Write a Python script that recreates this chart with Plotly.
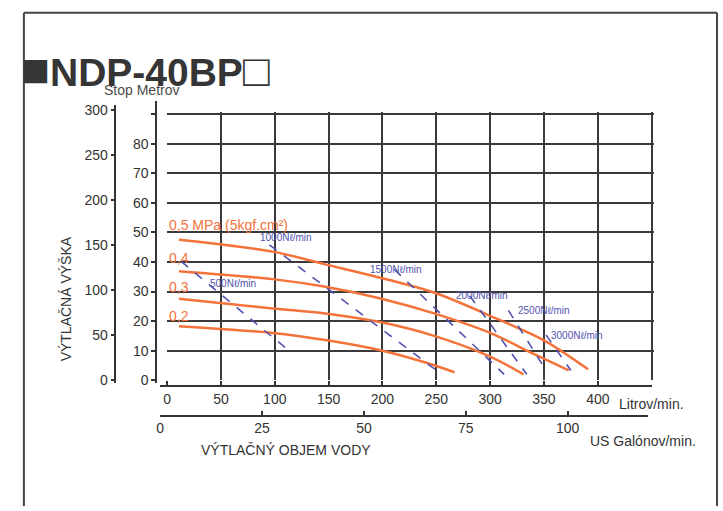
import plotly.graph_objects as go

W, H = 723, 511

# ---------------- data (flow in l/min, head in m) ----------------
pressure_labels = ["0,5 MPa (5kgf.cm²)", "0,4", "0,3", "0,2"]
flow_05 = [11, 98, 147, 200, 249, 305, 350, 391]
head_05 = [47.5, 43.5, 39.2, 34.5, 29.5, 21.0, 13.5, 3.7]
flow_04 = [11, 98, 147, 200, 248, 300, 340, 373]
head_04 = [36.9, 34.2, 31.6, 27.5, 22.6, 16.0, 9.0, 3.3]
flow_03 = [11, 98, 147, 200, 248, 300, 331]
head_03 = [27.6, 24.3, 22.6, 19.5, 15.0, 8.0, 2.0]
flow_02 = [11, 98, 147, 200, 240, 267]
head_02 = [18.3, 16.0, 13.6, 10.0, 6.0, 2.7]

air_labels = ["500Nℓ/min", "1000Nℓ/min", "1500Nℓ/min", "2000Nℓ/min", "2500Nℓ/min", "3000Nℓ/min"]
air_500_flow = [13, 114.5]
air_500_head = [40.2, 9.6]
air_1000_flow = [95, 255]
air_1000_head = [45.8, 2.0]
air_1500_flow = [211, 313]
air_1500_head = [37.5, 2.0]
air_2000_flow = [281, 334]
air_2000_head = [28.6, 2.0]
air_2500_flow = [317, 352]
air_2500_head = [23.6, 3.3]
air_3000_flow = [352, 375]
air_3000_head = [15.3, 3.3]

litre_ticks = [0, 50, 100, 150, 200, 250, 300, 350, 400]
gallon_ticks = [0, 25, 50, 75, 100]
metre_ticks = [0, 10, 20, 30, 40, 50, 60, 70, 80, 90]
metre_ticktext = ["0", "10", "20", "30", "40", "50", "60", "70", "80", ""]
feet_ticks = [0, 50, 100, 150, 200, 250, 300]

# ---------------- helpers for pixel -> paper ----------------
def fx(p):
    return p / W

def fy(p):
    return (H - p) / H

ORANGE = "#f3733b"
BLUE = "#5252ae"
INK = "#333333"
FONT = "Liberation Sans, Arial, sans-serif"

fig = go.Figure()

for fl, hd in [(flow_05, head_05), (flow_04, head_04), (flow_03, head_03), (flow_02, head_02)]:
    fig.add_trace(go.Scatter(x=fl, y=hd, mode="lines",
                             line=dict(color=ORANGE, width=2.5, shape="spline", smoothing=0.9),
                             hoverinfo="skip", showlegend=False))

for fl, hd in [(air_500_flow, air_500_head), (air_1000_flow, air_1000_head),
               (air_1500_flow, air_1500_head), (air_2000_flow, air_2000_head),
               (air_2500_flow, air_2500_head), (air_3000_flow, air_3000_head)]:
    fig.add_trace(go.Scatter(x=fl, y=hd, mode="lines",
                             line=dict(color=BLUE, width=1.6, dash="dash"),
                             hoverinfo="skip", showlegend=False))

# invisible helper traces so the extra axes render
fig.add_trace(go.Scatter(x=[0], y=[0], xaxis="x4", yaxis="y2", mode="markers",
                         marker=dict(opacity=0), hoverinfo="skip", showlegend=False))
fig.add_trace(go.Scatter(x=[0], y=[0], xaxis="x4", yaxis="y3", mode="markers",
                         marker=dict(opacity=0), hoverinfo="skip", showlegend=False))
fig.add_trace(go.Scatter(x=[0], y=[0], xaxis="x2", yaxis="y4", mode="markers",
                         marker=dict(opacity=0), hoverinfo="skip", showlegend=False))
fig.add_trace(go.Scatter(x=[0], y=[0], xaxis="x3", yaxis="y4", mode="markers",
                         marker=dict(opacity=0), hoverinfo="skip", showlegend=False))

# scale: 0 l/min at px 164, 1.0828 px per l/min ; 0 m at px 383, 3.01 px per m
XS = 1.0828
YS = 3.01
x_range = [0, 452]
y_range = [0, 90.6]

tickfont = dict(family=FONT, size=14, color=INK)

fig.update_layout(
    width=W, height=H, autosize=False,
    margin=dict(l=0, r=0, t=0, b=0),
    paper_bgcolor="white", plot_bgcolor="rgba(0,0,0,0)",
    font=dict(family=FONT, color=INK),
    xaxis=dict(domain=[fx(164), fx(164 + x_range[1] * XS)], range=x_range,
               tickmode="array", tickvals=[50, 100, 150, 200, 250, 300, 350, 400, 450],
               showticklabels=False, ticks="", showgrid=True, gridcolor="#3a3a3a",
               gridwidth=2, zeroline=False, showline=False, anchor="y", fixedrange=True),
    yaxis=dict(domain=[fy(383), fy(383 - y_range[1] * YS)], range=y_range,
               tickmode="array", tickvals=[10, 20, 30, 40, 50, 60, 70, 80, 90],
               showticklabels=False, ticks="", showgrid=True, gridcolor="#3a3a3a",
               gridwidth=2, zeroline=False, showline=False, anchor="x", fixedrange=True),
    # metres axis
    yaxis2=dict(domain=[fy(383 + 1 * YS), fy(383 - 94.5 * YS)], range=[-1, 94.5],
                anchor="free", position=fx(153), side="left",
                tickmode="array", tickvals=metre_ticks, ticktext=metre_ticktext,
                ticks="outside", ticklen=4, tickwidth=1.5, tickcolor=INK,
                showline=True, linecolor=INK, linewidth=1.5, showgrid=False,
                zeroline=False, tickfont=tickfont, fixedrange=True),
    # feet axis
    yaxis3=dict(domain=[fy(383 + 3 * YS / 3.2808), fy(383 - 305 * YS / 3.2808)], range=[-3, 305],
                anchor="free", position=fx(112), side="left",
                tickmode="array", tickvals=feet_ticks,
                ticks="outside", ticklen=4, tickwidth=1.5, tickcolor=INK,
                showline=True, linecolor=INK, linewidth=1.5, showgrid=False,
                zeroline=False, tickfont=tickfont, fixedrange=True),
    xaxis4=dict(domain=[fx(164), fx(651)], range=[0, 450], visible=False, anchor="y2"),
    yaxis4=dict(domain=[0, 0.1], range=[0, 1], visible=False, anchor="x2"),
    # litres axis
    xaxis2=dict(domain=[fx(157), fx(652)], range=[-7 / XS, (652 - 164) / XS],
                anchor="free", position=fy(389), side="bottom",
                tickmode="array", tickvals=litre_ticks,
                ticks="inside", ticklen=4, tickwidth=1.5, tickcolor=INK,
                showline=True, linecolor=INK, linewidth=1.5, showgrid=False,
                zeroline=False, tickfont=tickfont, fixedrange=True),
    # US gallons axis
    xaxis3=dict(domain=[fx(157), fx(648)], range=[0, (648 - 157) / (XS * 3.785)],
                anchor="free", position=fy(419), side="bottom",
                tickmode="array", tickvals=gallon_ticks,
                ticks="inside", ticklen=4, tickwidth=1.5, tickcolor=INK,
                showline=True, linecolor=INK, linewidth=1.5, showgrid=False,
                zeroline=False, tickfont=tickfont, fixedrange=True),
)

# frame
frame = dict(color="#444444", width=2)
fig.add_shape(type="line", xref="paper", yref="paper", x0=fx(20), x1=fx(20), y0=fy(9), y1=0, line=frame)
fig.add_shape(type="line", xref="paper", yref="paper", x0=fx(20), x1=fx(717), y0=fy(9), y1=fy(9), line=frame)
fig.add_shape(type="line", xref="paper", yref="paper", x0=fx(717), x1=fx(717), y0=fy(9), y1=0, line=frame)

ann = []
# title
ann.append(dict(text="<span style='font-size:48px'>■</span><b>NDP-40BP</b><span style='font-size:44px'>□</span>",
                xref="paper", yref="paper", x=fx(15), y=fy(67),
                xanchor="left", yanchor="middle", showarrow=False,
                font=dict(family=FONT, size=39, color="#353535")))
ann.append(dict(text="Stop Metrov", xref="paper", yref="paper", x=fx(99), y=fy(88),
                xanchor="left", yanchor="middle", showarrow=False,
                font=dict(family=FONT, size=14, color="#4a4a4a")))
ann.append(dict(text="VÝTLAČNÁ VÝŠKA", xref="paper", yref="paper", x=fx(62), y=fy(300),
                xanchor="center", yanchor="middle", showarrow=False, textangle=-90,
                font=dict(family=FONT, size=14, color=INK)))
ann.append(dict(text="Litrov/min.", xref="paper", yref="paper", x=fx(616), y=fy(407),
                xanchor="left", yanchor="middle", showarrow=False,
                font=dict(family=FONT, size=14, color=INK)))
ann.append(dict(text="US Galónov/min.", xref="paper", yref="paper", x=fx(587), y=fy(445),
                xanchor="left", yanchor="middle", showarrow=False,
                font=dict(family=FONT, size=14, color=INK)))
ann.append(dict(text="VÝTLAČNÝ OBJEM VODY", xref="paper", yref="paper", x=fx(196), y=fy(454),
                xanchor="left", yanchor="middle", showarrow=False,
                font=dict(family=FONT, size=14, color=INK)))

# pressure labels
press_pos = [(0, 52.5), (0, 41.2), (0, 31.6), (0, 21.6)]
for lbl, (px_, py_) in zip(pressure_labels, press_pos):
    ann.append(dict(text=lbl, x=px_, y=py_, xref="x", yref="y", xanchor="left",
                    yanchor="middle", showarrow=False,
                    font=dict(family=FONT, size=14, color=ORANGE)))

# air consumption labels
air_pos = [(38, 32.6), (84, 48.2), (187, 37.5), (266, 28.6), (324, 23.6), (355, 15.3)]
for lbl, (px_, py_) in zip(air_labels, air_pos):
    ann.append(dict(text=lbl, x=px_, y=py_, xref="x", yref="y", xanchor="left",
                    yanchor="middle", showarrow=False,
                    font=dict(family=FONT, size=10, color=BLUE)))

fig.update_layout(annotations=ann)

fig.write_html("out.html", config={"displayModeBar": False},
               post_script="document.body.style.margin='0px';document.body.style.overflow='hidden';")
